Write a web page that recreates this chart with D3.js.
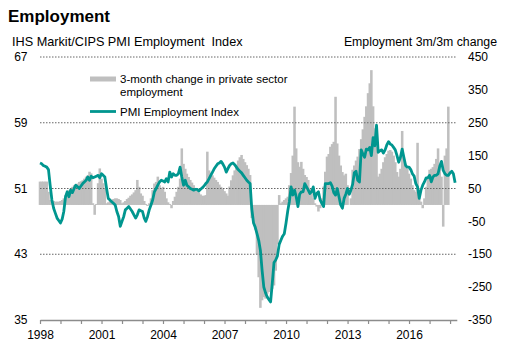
<!DOCTYPE html>
<html lang="en">
<head>
  <meta charset="UTF-8">
  <title>Employment</title>
  <script src="https://d3js.org/d3.v7.min.js"></script>
  <style>
    body { margin: 0; background: #fff; }
    svg { font-family: Arial, "Liberation Sans", sans-serif; }
    .title { font-size: 17px; font-weight: bold; fill: #000; }
    .sub { font-size: 12.3px; fill: #000; white-space: pre; }
    .tick-label { font-size: 12px; fill: #000; }
    .legend { font-size: 11.5px; fill: #000; }
    .grid { stroke: #666; stroke-width: 1; stroke-dasharray: 1.5,1.5; }
  </style>
</head>
<body>
  <svg width="509" height="364"></svg>

  <script>
    const width = 509;
    const height = 364;

    // PMI employment index, monthly from Jan 1998
    const pmiIndex = [
      54.1, 54.0, 53.8, 53.7, 53.6, 53.3, 51.4, 49.6, 48.6, 48.0, 47.4, 47.1, // 1998
      46.8, 47.3, 48.2, 50.0, 50.6, 50.0, 50.8, 50.5, 51.0, 51.4, 51.2, 51.0, // 1999
      51.3, 51.6, 51.8, 52.0, 52.4, 52.0, 52.5, 52.3, 52.4, 52.5, 52.6, 52.3, // 2000
      52.8, 52.6, 52.4, 51.0, 49.8, 49.6, 49.4, 49.2, 49.0, 48.2, 47.6, 46.4, // 2001
      47.0, 47.6, 48.4, 48.6, 48.8, 48.5, 48.2, 47.8, 47.4, 47.8, 48.4, 48.3, // 2002
      48.2, 47.4, 47.0, 47.6, 48.4, 49.0, 49.6, 50.6, 51.0, 51.4, 51.8, 52.0, // 2003
      51.9, 51.8, 52.2, 51.8, 53.0, 52.4, 52.8, 52.6, 52.6, 52.8, 53.6, 52.4, // 2004
      51.4, 52.0, 51.4, 51.2, 51.0, 50.9, 50.8, 50.9, 50.9, 50.7, 50.9, 51.1, // 2005
      51.3, 51.6, 51.8, 52.2, 52.6, 53.0, 53.4, 53.7, 54.0, 54.1, 54.3, 54.0, // 2006
      53.6, 53.0, 53.4, 53.8, 54.0, 54.1, 53.9, 53.6, 53.3, 53.1, 52.9, 52.6, // 2007
      52.3, 52.0, 51.8, 51.6, 48.5, 46.8, 46.3, 45.5, 44.7, 43.5, 41.0, 39.0, // 2008
      38.3, 37.8, 37.5, 37.2, 39.5, 42.0, 42.3, 42.8, 44.2, 44.7, 45.2, 45.5, // 2009
      46.8, 48.3, 49.4, 51.2, 50.2, 50.8, 50.0, 48.8, 50.3, 50.6, 50.6, 51.6, // 2010
      51.2, 50.8, 50.4, 50.6, 51.2, 49.8, 50.4, 50.6, 49.6, 49.2, 48.8, 51.6, // 2011
      51.6, 51.6, 51.7, 51.3, 50.5, 50.2, 51.0, 50.0, 49.0, 48.6, 49.8, 50.3, // 2012
      51.0, 50.3, 50.8, 51.5, 52.9, 53.1, 52.0, 51.8, 55.7, 55.2, 54.8, 55.8, // 2013
      55.7, 56.0, 55.0, 57.2, 56.2, 58.7, 55.4, 55.6, 55.7, 55.3, 55.7, 56.3, // 2014
      56.7, 56.4, 56.3, 56.0, 55.7, 55.0, 54.2, 54.8, 55.8, 54.8, 53.8, 53.6, // 2015
      53.6, 53.3, 52.8, 52.5, 51.6, 51.2, 49.8, 50.8, 51.4, 51.8, 52.3, 52.3, // 2016
      52.6, 51.8, 52.4, 52.6, 52.6, 52.8, 53.7, 54.3, 53.2, 52.8, 52.6, 52.6, // 2017
      52.9, 53.1, 52.8, 51.7                                                   // 2018
    ];

    // 3-month change in private sector employment (thousands), monthly from Jan 1998
    const empChange = [
      71, 71, 71, 71, 71, 40, 15, 12, 12, 10, 10, 10,                 // 1998
      12, 15, 20, 30, 38, 45, 50, 55, 60, 62, 65, 70,                 // 1999
      72, 75, 80, 86, 90, 101, 96, 5, -30, 3, 66, 111,                // 2000
      80, 66, 50, 5, 8, 12, 15, 18, 20, 20, 18, 15,                   // 2001
      5, 8, 12, 18, 22, 28, 32, 38, 45, 76, 55, 35,                   // 2002
      28, 12, 3, -3, 5, 20, 45, 65, 70, 86, 60, 50,                   // 2003
      55, 40, 20, 8, 3, -10, 12, 25, 40, 55, 80, 172,                 // 2004
      125, 110, 95, 85, 76, 68, 60, 52, 45, 38, 32, 28,               // 2005
      28, 30, 162, 105, 98, 90, 83, 76, 70, 62, 55, 50,               // 2006
      42, 35, 28, 56, 75, 90, 105, 120, 135, 145, 152, 140,           // 2007
      130, 121, 110, 91, -40, -50, -75, -150, -220, -313, -290, -280, // 2008
      -285, -270, -265, -260, -255, -245, -200, -120, 30, 5, 10, 15,  // 2009
      20, 25, 60, 97, 150, 299, 172, 130, 116, 131, 110, 91,          // 2010
      85, 76, 50, 36, 20, 5, -5, -20, -10, 20, 56, 101,               // 2011
      147, 155, 177, 185, 192, 329, 187, 150, 120, 100, 90, 95,       // 2012
      60, 0, 20, 107, 120, 135, 147, 170, 200, 230, 268, 300,         // 2013
      340, 370, 410, 300, 233, 188, 86, 95, 110, 130, 145, 155,       // 2014
      165, 167, 162, 150, 130, 100, 86, 110, 225, 140, 125, 110,      // 2015
      95, 80, 60, 45, 40, 189, 20, 10, -10, 20, 55, 80,               // 2016
      107, 110, 115, 125, 140, 172, 120, 86, -66, 150, 172, 299       // 2017
    ];

    const leftTicks = [35, 43, 51, 59, 67];
    const rightTicks = [-350, -250, -150, -50, 50, 150, 250, 350, 450];
    const labelYears = [1998, 2001, 2004, 2007, 2010, 2013, 2016];

    const month = i => new Date(1998, i, 1);

    const svg = d3.select("svg")
        .attr("width", width)
        .attr("height", height);

    const x = d3.scaleTime()
        .domain([new Date(1998, 0, 1), new Date(2018, 4, 1)])
        .range([40, 456.8]);
    const yL = d3.scaleLinear().domain([35, 67]).range([320, 57]);
    const yR = d3.scaleLinear().domain([-350, 450]).range([320, 57]);

    // titles
    svg.append("text").attr("class", "title").attr("x", 8).attr("y", 21.5).text("Employment");
    svg.append("text").attr("class", "sub").attr("x", 12).attr("y", 45.5)
        .style("font-size", "12.7px")
        .text("IHS Markit/CIPS PMI Employment  Index");
    svg.append("text").attr("class", "sub").attr("x", 497).attr("y", 45.5)
        .attr("text-anchor", "end").text("Employment 3m/3m change");

    // bars
    const step = x(month(1)) - x(month(0));
    svg.append("g").selectAll("rect")
        .data(empChange)
        .enter().append("rect")
        .attr("x", (d, i) => x(month(i)) - step / 2 - 0.4)
        .attr("width", step + 0.8)
        .attr("y", d => Math.min(yR(d), yR(0)))
        .attr("height", d => Math.abs(yR(d) - yR(0)))
        .attr("fill", "#bfbfbf");

    // gridlines
    svg.append("g").selectAll("line")
        .data(leftTicks.filter(d => d > 35))
        .enter().append("line")
        .attr("class", "grid")
        .attr("x1", 40).attr("x2", 456.8)
        .attr("y1", d => yL(d)).attr("y2", d => yL(d));

    // x axis
    const xAxis = d3.axisBottom(x)
        .ticks(d3.timeYear.every(1))
        .tickSize(4)
        .tickSizeOuter(0)
        .tickPadding(6)
        .tickFormat(d => labelYears.includes(d.getFullYear()) ? d.getFullYear() : "");
    const gx = svg.append("g").attr("transform", "translate(0,320)").call(xAxis);
    gx.select(".domain").attr("stroke", "#8c8c8c").attr("stroke-width", 1.5);
    gx.selectAll(".tick line").attr("stroke", "#8c8c8c").attr("stroke-width", 1.2);
    gx.selectAll(".tick text").attr("class", "tick-label").attr("font-family", null).attr("font-size", null);

    // left labels
    svg.append("g").selectAll("text")
        .data(leftTicks)
        .enter().append("text")
        .attr("class", "tick-label")
        .attr("x", 27.5).attr("y", d => yL(d)).attr("dy", "0.35em")
        .attr("text-anchor", "end")
        .text(d => d);

    // right labels
    svg.append("g").selectAll("text")
        .data(rightTicks)
        .enter().append("text")
        .attr("class", "tick-label")
        .attr("x", 468).attr("y", d => yR(d)).attr("dy", "0.35em")
        .text(d => d);

    // PMI line
    const line = d3.line()
        .x((d, i) => x(month(i)))
        .y(d => yL(d));
    svg.append("path")
        .datum(pmiIndex)
        .attr("fill", "none")
        .attr("stroke", "#00968f")
        .attr("stroke-width", 2.8)
        .attr("stroke-linejoin", "round")
        .attr("d", line);

    // legend
    const lg = svg.append("g");
    lg.append("rect").attr("x", 90).attr("y", 76.5).attr("width", 26).attr("height", 5).attr("fill", "#bfbfbf");
    lg.append("text").attr("class", "legend").attr("x", 120).attr("y", 83).text("3-month change in private sector");
    lg.append("text").attr("class", "legend").attr("x", 120).attr("y", 96).text("employment");
    lg.append("line").attr("x1", 90).attr("x2", 116).attr("y1", 111.5).attr("y2", 111.5)
        .attr("stroke", "#00968f").attr("stroke-width", 2.8);
    lg.append("text").attr("class", "legend").attr("x", 120).attr("y", 115.5).text("PMI Employment Index");
  </script>
</body>
</html>
